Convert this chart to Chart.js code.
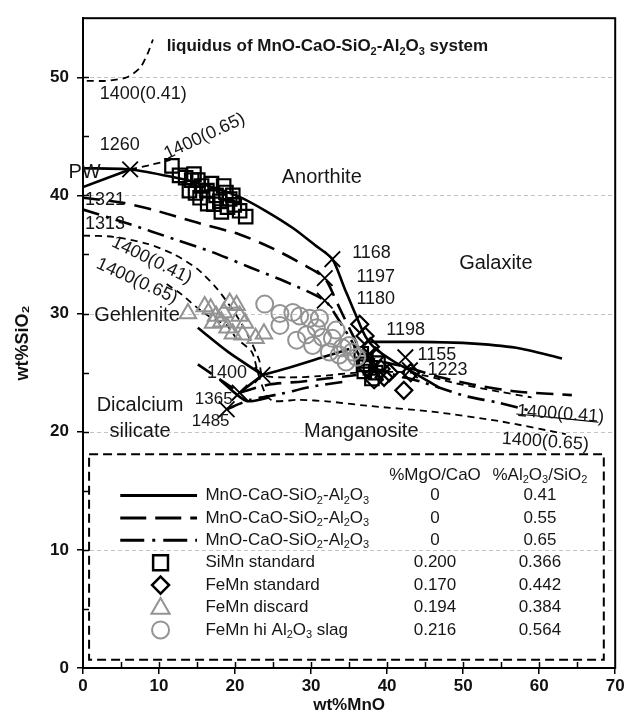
<!DOCTYPE html>
<html><head><meta charset="utf-8">
<script src="https://cdn.jsdelivr.net/npm/chart.js@4"></script>
<style>html,body{margin:0;padding:0;background:#fff}</style>
</head><body>
<canvas id="c" width="628" height="727"></canvas>
<script>
// ---------- DATA : [wt%MnO, wt%SiO2] ----------
const xTickValues = [0,10,20,30,40,50,60,70];
const yTickValues = [0,10,20,30,40,50];

// 0.41 Al2O3/SiO2 (solid)
const s41Main  = [[0,42.3],[6.2,42.2],[11.5,41.6],[16,40.9],[20.5,39.9],[24,38.7],[27.7,37.2],[30.5,35.8],[32.8,34.6],[34.3,32.3],[35.8,30.0],[37.2,28.0],[38.5,27.0],[41,25.9],[43,25.2],[46.9,23.7]];
const s41_1198 = [[37.7,27.6],[44,27.6],[50.4,27.5],[57,27.1],[63,26.2]];
const s41PW    = [[0,40.7],[6.2,42.2]];
const s41Gehl  = [[15.1,28.8],[19,26.8],[23.6,24.8]];
const s41Up    = [[23.6,24.8],[27.5,25.5],[31.5,26.3],[35,27.0]];
const s41Low   = [[23.6,24.8],[20.6,23.3]];
const s41C2S   = [[18,24.4],[21.5,22.6],[24.5,22.9]];
// 0.55 (long dash)
const s55Main  = [[0,39.8],[5,39.4],[9.1,38.8],[15,37.7],[20.6,36.7],[25,35.5],[29.4,34.0],[31.8,33.0],[33.5,30.8],[35,28.8],[36.5,27.0],[38,26.2],[42.9,25.4],[47,24.6],[51.2,24.0],[57,23.4],[64.3,23.1]];
const s55Low   = [[20.6,23.3],[24.5,24.0],[28.9,24.25],[32,24.5],[36,24.8]];
const s55C2S   = [[15.1,25.7],[20.6,23.3]];
// 0.65 (dash-dot)
const s65Main  = [[0,38.8],[6,37.6],[12,36.3],[17,35.2],[22,33.9],[27,32.6],[31.8,31.1],[33.6,29.5],[35.5,27.5],[37,25.8],[40,25.0],[44.6,24.2],[50.4,23.0],[54.3,22.5],[59,21.75]];
const s65Low   = [[18.9,21.9],[22,22.7],[26,23.2],[30,23.8],[35,24.3]];
// 1400 °C liquidus isotherms (short dash)
const liqTop   = [[0.5,49.7],[3,49.7],[5.8,50.0],[7.5,50.8],[8.5,52.0],[9.2,53.2]];
const liq65Top = [[6.2,42.2],[9,42.6],[11.5,43.0]];
const liq41    = [[0,36.6],[4,36.5],[8.5,35.9],[12,35.0],[15,33.8],[17.5,32.2],[19.5,30.5],[21,29.0],[22.2,27.5],[23.2,26.0],[23.6,24.8],[27,24.6],[31,24.7],[36,25.0],[43,25.0],[49,24.1],[54.7,23.4],[59,22.9]];
const liq41End = [[57,21.5],[62,21.2],[67.8,20.8]];
const liq65    = [[11,32.5],[13,31.6],[15,30.5],[17,29.6],[18.9,29.0],[20.2,27.9],[22.2,26.75],[23,25.0],[24,23.2],[25,22.6],[28.5,22.7],[32.4,22.55],[37.3,22.2],[45.9,21.7],[54.7,20.9],[63.5,19.8]];

// measured slags
const siMnStd = [[11.7,42.5],[12.7,41.7],[13.5,41.5],[14.3,41.3],[15.1,41.3],[14.0,40.4],[14.8,40.2],[15.6,40.8],[16.3,40.4],[16.9,41.0],[17.5,40.0],[18.0,39.5],[18.8,40.25],[19.3,39.7],[17.2,39.25],[18.2,38.6],[19.9,39.2],[20.6,38.7],[21.4,38.2],[16.4,39.3],[15.4,39.8],[19.0,39.0],[19.7,40.0],[18.5,40.8],[14.6,41.8],[36.6,26.6],[37.2,26.0],[37.8,25.4],[38.5,25.0],[37.0,25.1],[38.0,24.5],[38.8,25.8],[36.9,25.7]];
const feMnStd = [[36.4,29.1],[37.1,28.1],[37.8,27.2],[38.5,26.4],[39.2,25.3],[38.3,24.4],[37.4,25.4],[39.6,24.6],[42.2,23.5],[43.1,25.0],[40.3,25.0]];
const feMnDiscard = [[13.8,30.0],[16.0,30.6],[16.8,30.4],[17.5,29.8],[19.3,30.9],[20.2,30.7],[18.2,29.3],[19.0,28.8],[19.7,28.3],[21.0,28.2],[22.7,27.9],[23.8,28.3],[20.6,29.8],[18.5,30.1],[17.1,29.2],[21.3,29.2]];
const feMnHiAl = [[23.9,30.8],[25.9,30.0],[27.6,30.1],[28.5,29.8],[25.9,29.0],[28.1,27.75],[29.8,29.6],[30.7,28.8],[31.5,28.0],[31.1,29.6],[29.4,28.2],[32.8,27.9],[32.4,26.75],[34.1,27.1],[35.4,26.75],[34.6,25.9],[36.0,26.3],[33.7,26.5],[35.0,27.3],[30.2,27.3],[33.3,28.6]];
// invariant points (crosses)
const invariantPts = [[6.2,42.2],[32.8,34.6],[31.8,33.0],[31.8,31.1],[42.4,26.3],[43.0,25.2],[23.6,24.8],[20.6,23.3],[18.9,21.9]];

// legend table
const legendNames = ['MnO-CaO-SiO_2-Al_2O_3','MnO-CaO-SiO_2-Al_2O_3','MnO-CaO-SiO_2-Al_2O_3','SiMn standard','FeMn standard','FeMn discard','FeMn hi Al_2O_3 slag'];
const legendMgOCaO = ['0','0','0','0.200','0.170','0.194','0.216'];
const legendAlSi   = ['0.41','0.55','0.65','0.366','0.442','0.384','0.564'];

// ---------- STYLE / ANNOTATIONS ----------
const FONT = '"Liberation Sans", Arial, Helvetica, sans-serif';
const GREY = '#939393';
const DASH55 = [17,9], DASHDOT = [17,7,3,7], DASHLIQ = [7,5];

const annotations = [
 {t:'liquidus of MnO-CaO-SiO_2-Al_2O_3 system', x:11.0, y:52.6, s:17, b:true},
 {t:'1400(0.41)', x:2.2, y:48.6, s:18},
 {t:'1260', x:2.2, y:44.25, s:18},
 {t:'1400(0.65)', x:16.0, y:45.0, s:18, a:'center', r:-25},
 {t:'PW', x:0.2, y:41.9, s:20, a:'center'},
 {t:'1321', x:0.25, y:39.6, s:18},
 {t:'1313', x:0.25, y:37.6, s:18},
 {t:'1400(0.41)', x:9.05, y:34.5, s:18, a:'center', r:26},
 {t:'1400(0.65)', x:7.1, y:32.75, s:18, a:'center', r:24.5},
 {t:'Anorthite', x:31.4, y:41.5, s:20, a:'center'},
 {t:'Galaxite', x:54.3, y:34.25, s:20, a:'center'},
 {t:'Gehlenite', x:7.1, y:29.8, s:20, a:'center'},
 {t:'Dicalcium', x:7.5, y:22.2, s:20, a:'center'},
 {t:'silicate', x:7.5, y:20.0, s:20, a:'center'},
 {t:'Manganosite', x:36.6, y:20.0, s:20, a:'center'},
 {t:'1168', x:35.4, y:35.1, s:18},
 {t:'1197', x:35.96, y:33.1, s:18},
 {t:'1180', x:35.96, y:31.2, s:18},
 {t:'1198', x:39.9, y:28.6, s:18},
 {t:'1155', x:44.0, y:26.5, s:18},
 {t:'1223', x:45.3, y:25.25, s:18},
 {t:'1400', x:16.3, y:25.0, s:18},
 {t:'1365', x:14.7, y:22.75, s:17},
 {t:'1485', x:14.3, y:20.9, s:17},
 {t:'1400(0.41)', x:57.1, y:21.75, s:18, r:4},
 {t:'1400(0.65)', x:55.1, y:19.4, s:18, r:4}
];

function richText(ctx, str, x, y, size, o) {
  o = o || {};
  const bold = o.b ? 'bold ' : '';
  const segs = [];
  let i = 0;
  while (i < str.length) {
    if (str[i] === '_') { segs.push({t:str[i+1], sub:true}); i += 2; }
    else { let j = i; while (j < str.length && str[j] !== '_') j++; segs.push({t:str.slice(i,j), sub:false}); i = j; }
  }
  let w = 0;
  segs.forEach(s => { s.f = bold + (s.sub ? Math.round(size*0.65) : size) + 'px ' + FONT; ctx.font = s.f; s.w = ctx.measureText(s.t).width; w += s.w; });
  ctx.save();
  ctx.translate(x, y);
  if (o.r) ctx.rotate(o.r*Math.PI/180);
  let sx = o.a === 'center' ? -w/2 : (o.a === 'right' ? -w : 0);
  ctx.textBaseline = 'middle'; ctx.textAlign = 'left';
  ctx.fillStyle = o.color || '#161616';
  segs.forEach(s => { ctx.font = s.f; ctx.fillText(s.t, sx, s.sub ? size*0.3 : 0); sx += s.w; });
  ctx.restore();
}

function pts(a){ return a.map(p => ({x:p[0], y:p[1]})); }
const datasets = [];
function addLine(a, dash, lw){ datasets.push({data:pts(a), showLine:true, borderColor:'#000', borderWidth:lw, borderDash:dash, borderCapStyle:'butt', pointRadius:0, pointHoverRadius:0, tension:0.25, fill:false, order:10}); }
function addMarks(a, style, r, color, lw){ datasets.push({data:pts(a), showLine:false, pointStyle:style, pointRadius:r, pointHoverRadius:r, pointBorderColor:color, pointBackgroundColor:'rgba(0,0,0,0)', pointBorderWidth:lw, order:1}); }

[s41Main,s41_1198,s41PW,s41Gehl,s41Up,s41Low,s41C2S].forEach(a=>addLine(a,[],2.6));
[s55Main,s55Low,s55C2S].forEach(a=>addLine(a,DASH55,2.6));
[s65Main,s65Low].forEach(a=>addLine(a,DASHDOT,2.6));
[liqTop,liq65Top,liq41,liq65].forEach(a=>addLine(a,DASHLIQ,1.8));
addLine(liq41End,[],1.2);
addMarks(feMnHiAl,'circle',8.5,GREY,2);
addMarks(feMnDiscard,'triangle',9.5,GREY,2);
addMarks(siMnStd,'rect',9.5,'#000',2.2);
addMarks(feMnStd,'rectRot',8.5,'#000',2.2);
addMarks(invariantPts,'crossRot',11,'#000',1.8);

const gridPlugin = {
  id:'gridDash',
  beforeDatasetsDraw(chart){
    const {ctx, chartArea:ca, scales:{y}} = chart;
    ctx.save();
    ctx.strokeStyle = '#c4c4c4'; ctx.lineWidth = 1; ctx.setLineDash([4,3]);
    yTickValues.filter(v=>v>0).forEach(v=>{
      const py = Math.round(y.getPixelForValue(v))+0.5;
      ctx.beginPath(); ctx.moveTo(ca.left, py); ctx.lineTo(ca.right, py); ctx.stroke();
    });
    ctx.restore();
  }
};

function drawShape(ctx, style, x, y, r, color, lw){
  ctx.save(); ctx.strokeStyle = color; ctx.lineWidth = lw; ctx.setLineDash([]); ctx.beginPath();
  if (style==='rect'){ const h=r*Math.SQRT1_2; ctx.rect(x-h,y-h,2*h,2*h); }
  else if (style==='rectRot'){ ctx.moveTo(x,y-r); ctx.lineTo(x+r,y); ctx.lineTo(x,y+r); ctx.lineTo(x-r,y); ctx.closePath(); }
  else if (style==='triangle'){ ctx.moveTo(x,y-r); ctx.lineTo(x+r*0.866,y+r*0.5); ctx.lineTo(x-r*0.866,y+r*0.5); ctx.closePath(); }
  else if (style==='circle'){ ctx.arc(x,y,r,0,Math.PI*2); }
  ctx.stroke(); ctx.restore();
}

const annoPlugin = {
  id:'anno',
  afterDatasetsDraw(chart){
    const {ctx, chartArea:ca, scales:{x, y}} = chart;
    ctx.save(); ctx.strokeStyle='#000'; ctx.lineWidth=1.5;
    for (let v=5; v<70; v+=5){ const px=Math.round(x.getPixelForValue(v))+0.5; ctx.beginPath(); ctx.moveTo(px,ca.bottom); ctx.lineTo(px,ca.bottom-6); ctx.stroke(); }
    for (let v=5; v<55; v+=5){ const py=Math.round(y.getPixelForValue(v))+0.5; ctx.beginPath(); ctx.moveTo(ca.left,py); ctx.lineTo(ca.left+6,py); ctx.stroke(); }
    ctx.restore();
    ctx.save(); ctx.strokeStyle='#000'; ctx.lineWidth=2; ctx.strokeRect(ca.left, ca.top, ca.right-ca.left, ca.bottom-ca.top); ctx.restore();
    annotations.forEach(l => richText(ctx, l.t, x.getPixelForValue(l.x), y.getPixelForValue(l.y), l.s, {b:l.b, a:l.a, r:l.r}));
    const bx1=x.getPixelForValue(0.8), bx2=x.getPixelForValue(68.5), by1=y.getPixelForValue(18.1), by2=y.getPixelForValue(0.7);
    ctx.save(); ctx.setLineDash([9,5]); ctx.lineWidth=2; ctx.strokeStyle='#000'; ctx.strokeRect(bx1,by1,bx2-bx1,by2-by1); ctx.restore();
    const col2 = x.getPixelForValue(46.3), col3 = x.getPixelForValue(60.1);
    const hy = y.getPixelForValue(16.33);
    richText(ctx, '%MgO/CaO', col2, hy, 17, {a:'center'});
    richText(ctx, '%Al_2O_3/SiO_2', col3, hy, 17, {a:'center'});
    const r0 = y.getPixelForValue(14.6), step = 22.4;
    const lx1 = x.getPixelForValue(4.9), lx2 = x.getPixelForValue(15.0), mx = x.getPixelForValue(10.2), tx = x.getPixelForValue(16.1);
    const lineDashes = [[],[26,9],[24,8,3,8]];
    legendNames.forEach((n,i)=>{
      const ry = r0 + i*step;
      if (i<3){
        ctx.save(); ctx.strokeStyle='#000'; ctx.lineWidth=3; ctx.setLineDash(lineDashes[i]); ctx.beginPath(); ctx.moveTo(lx1,ry); ctx.lineTo(lx2,ry); ctx.stroke(); ctx.restore();
      } else if (i===3) drawShape(ctx,'rect',mx,ry,10.5,'#000',2.5);
      else if (i===4) drawShape(ctx,'rectRot',mx,ry,8.5,'#000',2.5);
      else if (i===5) drawShape(ctx,'triangle',mx,ry+1,10.5,GREY,2);
      else drawShape(ctx,'circle',mx,ry,8.5,GREY,2);
      richText(ctx, n, tx, ry, 17);
      richText(ctx, legendMgOCaO[i], col2, ry, 17, {a:'center'});
      richText(ctx, legendAlSi[i], col3, ry, 17, {a:'center'});
    });
  }
};

const tickFont = {family:FONT, size:17, weight:'bold'};
new Chart(document.getElementById('c'), {
  type:'scatter',
  data:{datasets},
  plugins:[gridPlugin, annoPlugin],
  options:{
    responsive:false, animation:false, events:[],
    layout:{padding:{top:10, right:11, left:0, bottom:0}},
    plugins:{legend:{display:false}, tooltip:{enabled:false}},
    scales:{
      x:{type:'linear', min:0, max:70,
        afterFit(s){ s.height = 59; },
        ticks:{stepSize:5, autoSkip:false, maxRotation:0, padding:2, color:'#111', font:tickFont,
          callback:v => xTickValues.includes(v) ? String(v) : ''},
        grid:{drawOnChartArea:false, drawTicks:true, tickLength:6, lineWidth:1.5,
          color:c => (c.tick && xTickValues.includes(c.tick.value)) ? '#000' : 'rgba(0,0,0,0)'},
        border:{display:true, color:'#000', width:2},
        title:{display:true, text:'wt%MnO', color:'#111', font:{family:FONT, size:17, weight:'bold'}, padding:{top:0, bottom:11}}
      },
      y:{type:'linear', min:0, max:55,
        afterFit(s){ s.width = 83; },
        ticks:{stepSize:5, autoSkip:false, padding:8, color:'#111', font:tickFont,
          callback:v => yTickValues.includes(v) ? String(v) : ''},
        grid:{drawOnChartArea:false, drawTicks:true, tickLength:6, lineWidth:1.5,
          color:c => (c.tick && yTickValues.includes(c.tick.value)) ? '#000' : 'rgba(0,0,0,0)'},
        border:{display:true, color:'#000', width:2},
        title:{display:true, text:'wt%SiO₂', color:'#111', font:{family:FONT, size:18, weight:'bold'}, padding:{top:12, bottom:0}}
      }
    }
  }
});
</script>
</body></html>
